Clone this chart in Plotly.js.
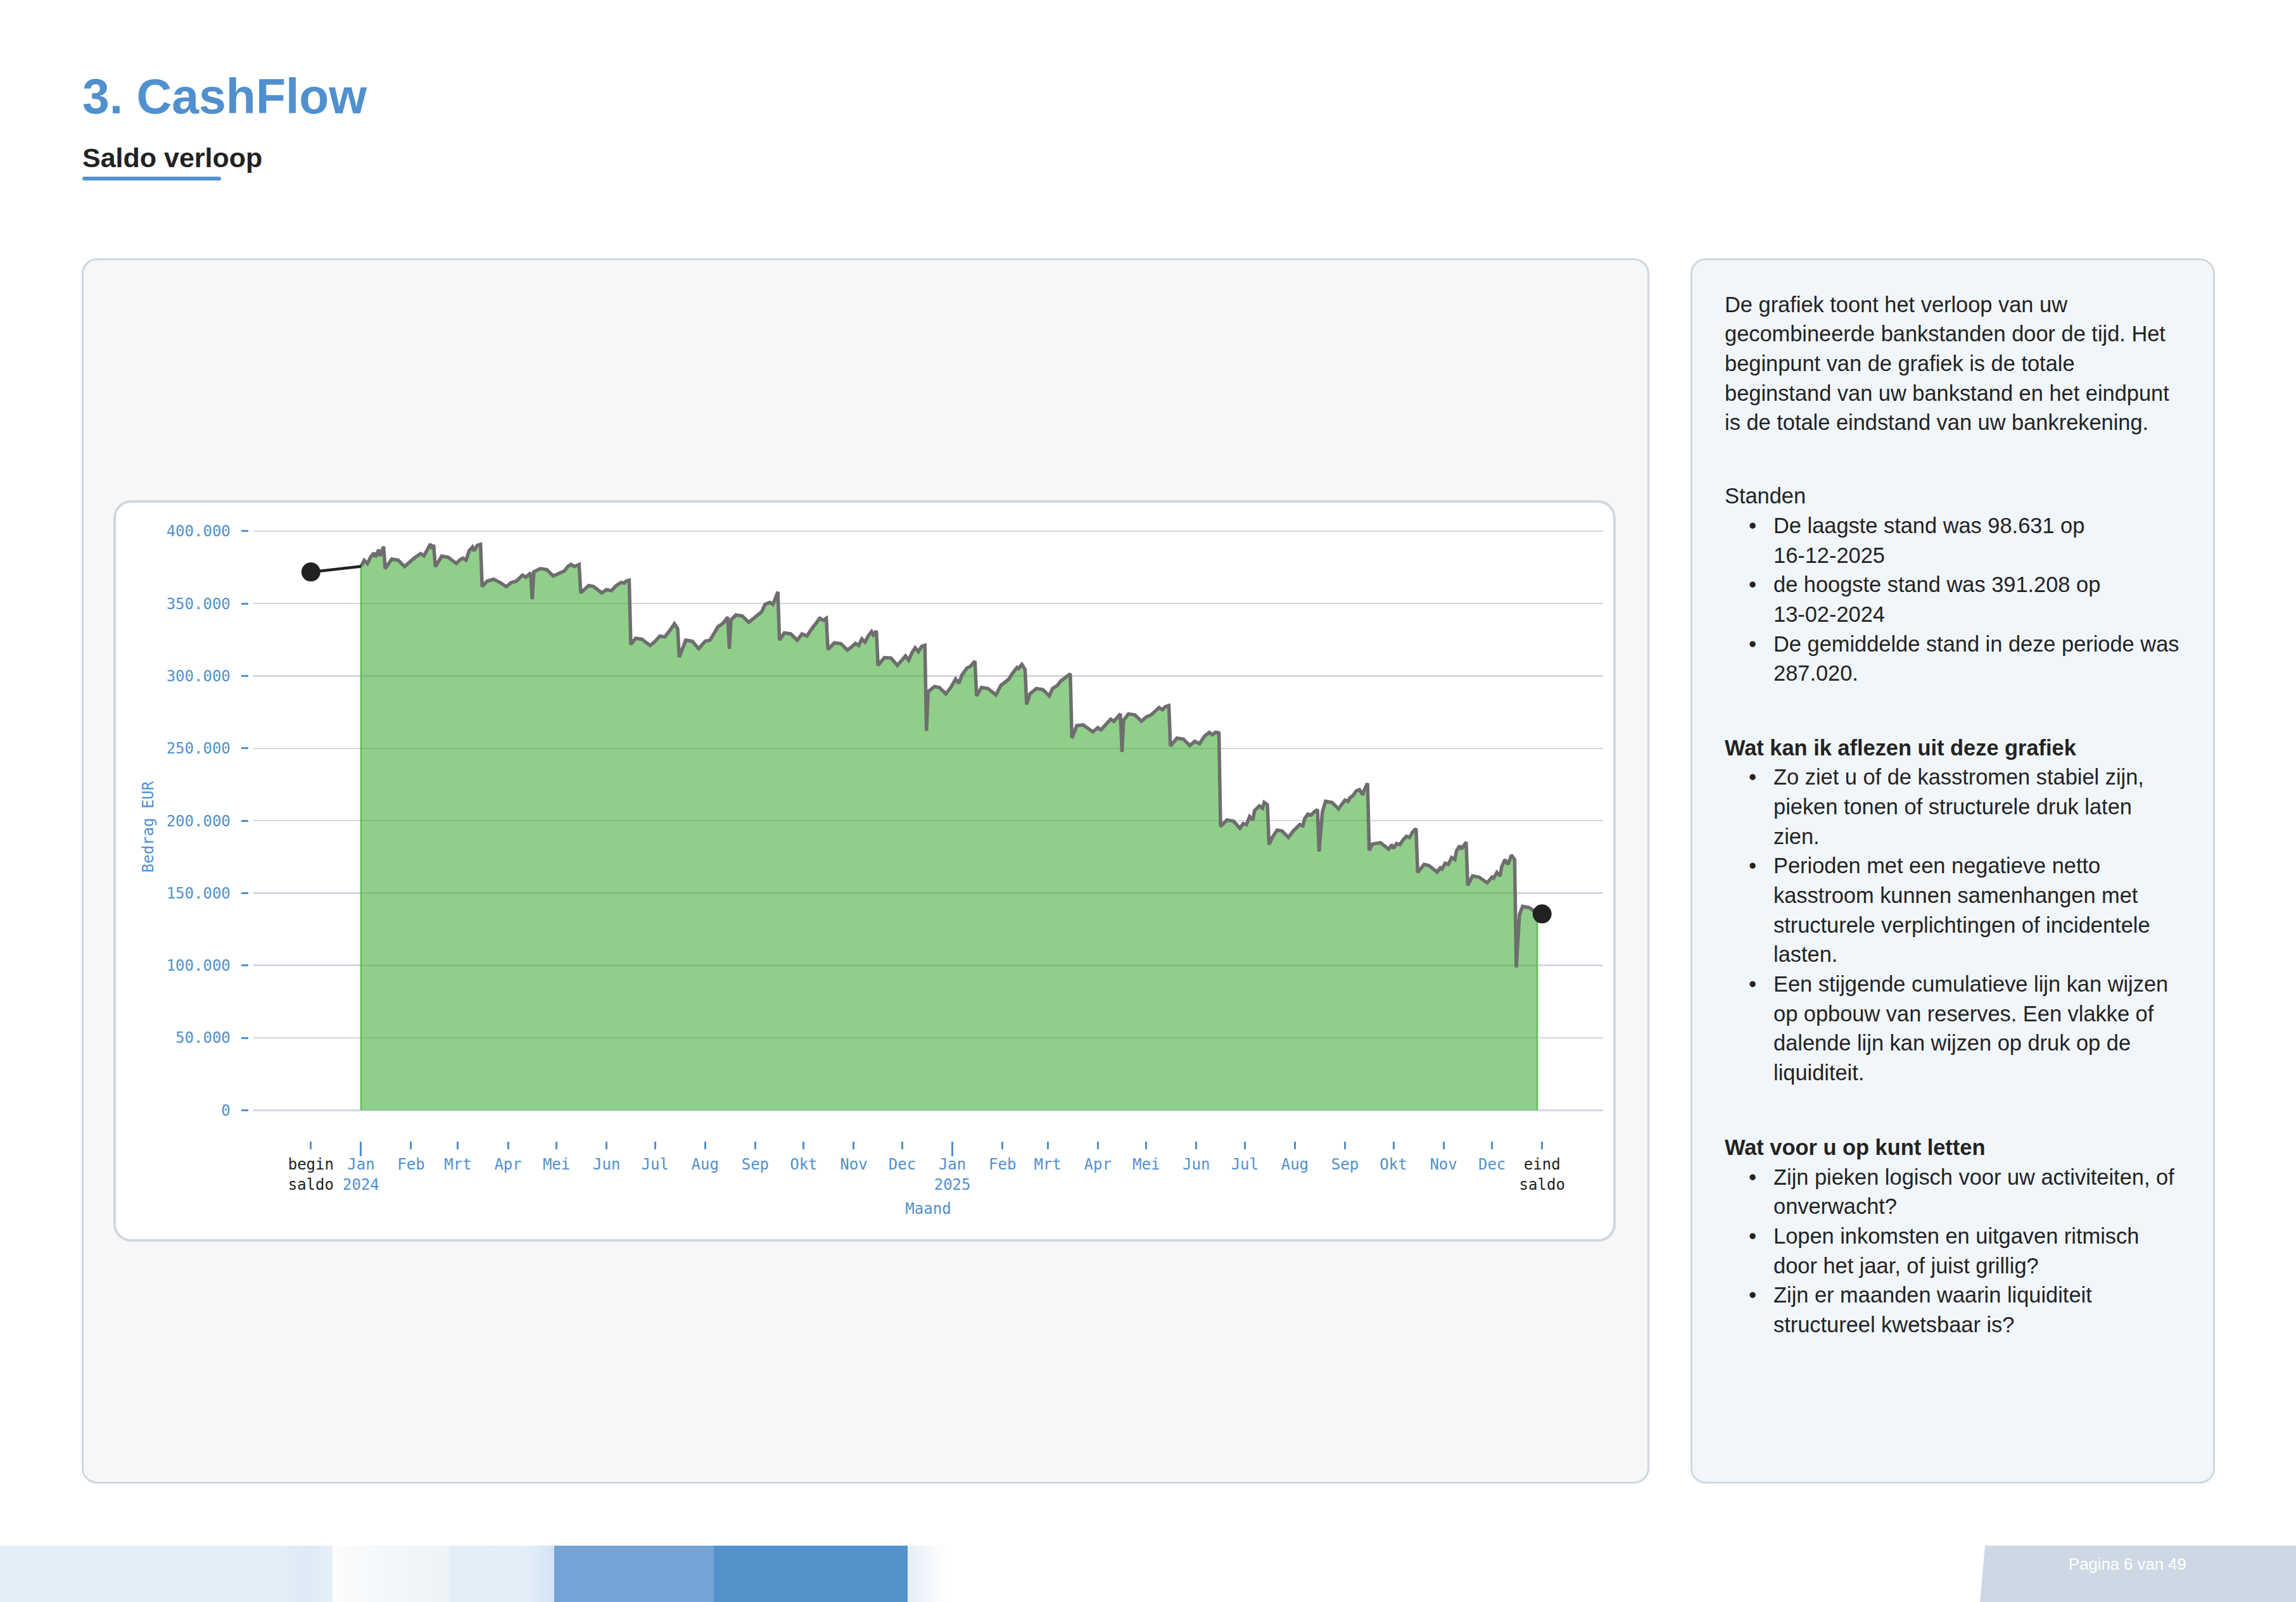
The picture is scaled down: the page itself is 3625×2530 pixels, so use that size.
<!DOCTYPE html>
<html><head><meta charset="utf-8">
<script src="https://cdn.plot.ly/plotly-3.0.1.min.js"></script>
<style>
html,body{margin:0;padding:0;background:#fff;}
body{width:3625px;height:2530px;position:relative;overflow:hidden;font-family:"Liberation Sans",Arial,sans-serif;color:#222;}
.a{position:absolute;}
.card{position:absolute;box-sizing:border-box;}
.txt{position:absolute;left:2723px;font-size:34.4px;line-height:46.7px;color:#232323;white-space:nowrap;}
.txt div{height:46.7px;}
.b{font-weight:bold;}
.li{position:relative;padding-left:77px;}
.li .dot{position:absolute;left:38px;top:0;}
</style></head><body>

<div class="a" style="left:130px;top:114px;font-size:77px;line-height:77px;font-weight:bold;color:#5090CE;white-space:nowrap;">3. CashFlow</div>
<div class="a" style="left:130px;top:228px;font-size:43px;line-height:43px;font-weight:bold;color:#222;white-space:nowrap;">Saldo verloop</div>
<div class="a" style="left:129.5px;top:278.5px;width:219.5px;height:6px;border-radius:3px;background:#5090CE;"></div>

<div class="card" style="left:129px;top:408px;width:2475px;height:1935px;border:3.5px solid #CED6E0;border-radius:24px;background:#F7F7F7;"></div>
<div class="card" style="left:179px;top:789.5px;width:2372px;height:1171px;border:4px solid #CFD7E1;border-radius:28px;background:#fff;"></div>
<div class="card" style="left:2669px;top:408px;width:828px;height:1935px;border:3.5px solid #CFD8E1;border-radius:24px;background:#F1F6FB;"></div>

<div id="chart" class="a" style="left:180px;top:791px;width:2370px;height:1170px;"></div>

<div class="txt" style="top:457.5px;">
<div>De grafiek toont het verloop van uw</div>
<div>gecombineerde bankstanden door de tijd. Het</div>
<div>beginpunt van de grafiek is de totale</div>
<div>beginstand van uw bankstand en het eindpunt</div>
<div>is de totale eindstand van uw bankrekening.</div>
</div>

<div class="txt" style="top:760.3px;">
<div>Standen</div>
<div class="li"><span class="dot">•</span>De laagste stand was 98.631 op</div>
<div class="li">16-12-2025</div>
<div class="li"><span class="dot">•</span>de hoogste stand was 391.208 op</div>
<div class="li">13-02-2024</div>
<div class="li"><span class="dot">•</span>De gemiddelde stand in deze periode was</div>
<div class="li">287.020.</div>
</div>

<div class="txt" style="top:1157.5px;">
<div class="b">Wat kan ik aflezen uit deze grafiek</div>
<div class="li"><span class="dot">•</span>Zo ziet u of de kasstromen stabiel zijn,</div>
<div class="li">pieken tonen of structurele druk laten</div>
<div class="li">zien.</div>
<div class="li"><span class="dot">•</span>Perioden met een negatieve netto</div>
<div class="li">kasstroom kunnen samenhangen met</div>
<div class="li">structurele verplichtingen of incidentele</div>
<div class="li">lasten.</div>
<div class="li"><span class="dot">•</span>Een stijgende cumulatieve lijn kan wijzen</div>
<div class="li">op opbouw van reserves. Een vlakke of</div>
<div class="li">dalende lijn kan wijzen op druk op de</div>
<div class="li">liquiditeit.</div>
</div>

<div class="txt" style="top:1789px;">
<div class="b">Wat voor u op kunt letten</div>
<div class="li"><span class="dot">•</span>Zijn pieken logisch voor uw activiteiten, of</div>
<div class="li">onverwacht?</div>
<div class="li"><span class="dot">•</span>Lopen inkomsten en uitgaven ritmisch</div>
<div class="li">door het jaar, of juist grillig?</div>
<div class="li"><span class="dot">•</span>Zijn er maanden waarin liquiditeit</div>
<div class="li">structureel kwetsbaar is?</div>
</div>

<!-- footer band -->
<div class="a" style="left:0;top:2441px;width:525px;height:89px;background:linear-gradient(90deg,#E4EEF8 0%,#E4EEF8 84%,#DFEAF6 92%,#E6EFF8 100%);"></div>
<div class="a" style="left:525px;top:2441px;width:184px;height:89px;background:linear-gradient(90deg,#FBFCFD 0%,#F4F7FA 50%,#EEF3F8 100%);"></div>
<div class="a" style="left:709px;top:2441px;width:166px;height:89px;background:linear-gradient(90deg,#E4EEF8 0%,#E2EDF8 75%,#D3E4F5 100%);"></div>
<div class="a" style="left:875px;top:2441px;width:252px;height:89px;background:#74A3D6;"></div>
<div class="a" style="left:1127px;top:2441px;width:306px;height:89px;background:#5391CB;"></div>
<div class="a" style="left:1433px;top:2441px;width:62px;height:89px;background:linear-gradient(90deg,#E6EEF7 0%,#F6F9FC 60%,#FFFFFF 100%);"></div>
<div class="a" style="left:3126px;top:2441px;width:499px;height:89px;background:#CDD8E4;clip-path:polygon(8px 0,100% 0,100% 100%,0 100%);"></div>
<div class="a" style="left:3266px;top:2458px;font-size:25.7px;line-height:25.7px;color:#fff;white-space:nowrap;">Pagina 6 van 49</div>

<script>
// ---- data ----
const beginDate = '2023-12-01';
const beginSaldo = 371800;
const endDate = '2026-01-01';
const eindSaldo = 135600;

const dates = [
'2024-01-01','2024-01-03','2024-01-05','2024-01-07','2024-01-09','2024-01-10','2024-01-12','2024-01-13','2024-01-15','2024-01-16','2024-01-20','2024-01-24','2024-01-28',
'2024-02-01','2024-02-03','2024-02-05','2024-02-07','2024-02-09','2024-02-11','2024-02-12','2024-02-13','2024-02-14','2024-02-15','2024-02-16','2024-02-20','2024-02-24','2024-02-29',
'2024-03-02','2024-03-04','2024-03-06','2024-03-08','2024-03-10','2024-03-11','2024-03-13','2024-03-15','2024-03-16','2024-03-19','2024-03-23','2024-03-27','2024-03-31',
'2024-04-03','2024-04-06','2024-04-08','2024-04-10','2024-04-12','2024-04-15','2024-04-16','2024-04-17','2024-04-21','2024-04-25','2024-04-29',
'2024-05-03','2024-05-06','2024-05-08','2024-05-10','2024-05-12','2024-05-15','2024-05-16','2024-05-21','2024-05-24','2024-05-29',
'2024-06-01','2024-06-04','2024-06-07','2024-06-10','2024-06-12','2024-06-13','2024-06-15','2024-06-16','2024-06-19','2024-06-23','2024-06-28',
'2024-07-01','2024-07-04','2024-07-07','2024-07-10','2024-07-13','2024-07-15','2024-07-16','2024-07-20','2024-07-24','2024-07-28',
'2024-08-01','2024-08-04','2024-08-07','2024-08-09','2024-08-12','2024-08-15','2024-08-16','2024-08-17','2024-08-20','2024-08-24','2024-08-28','2024-08-31',
'2024-09-02','2024-09-05','2024-09-07','2024-09-10','2024-09-12','2024-09-15','2024-09-16','2024-09-19','2024-09-23','2024-09-27','2024-09-30',
'2024-10-03','2024-10-06','2024-10-09','2024-10-11','2024-10-13','2024-10-15','2024-10-16','2024-10-20','2024-10-24','2024-10-28','2024-10-31',
'2024-11-02','2024-11-04','2024-11-06','2024-11-08','2024-11-10','2024-11-12','2024-11-13','2024-11-15','2024-11-16','2024-11-20','2024-11-24','2024-11-28',
'2024-12-01','2024-12-03','2024-12-05','2024-12-07','2024-12-09','2024-12-11','2024-12-13','2024-12-15','2024-12-16','2024-12-17','2024-12-21','2024-12-24','2024-12-28','2024-12-31',
'2025-01-03','2025-01-05','2025-01-07','2025-01-10','2025-01-12','2025-01-15','2025-01-16','2025-01-19','2025-01-23','2025-01-28','2025-01-31',
'2025-02-03','2025-02-05','2025-02-07','2025-02-10','2025-02-11','2025-02-13','2025-02-15','2025-02-16','2025-02-18','2025-02-22','2025-02-26',
'2025-03-02','2025-03-04','2025-03-07','2025-03-09','2025-03-12','2025-03-15','2025-03-16','2025-03-19','2025-03-23','2025-03-29',
'2025-04-01','2025-04-03','2025-04-06','2025-04-09','2025-04-11','2025-04-13','2025-04-15','2025-04-16','2025-04-17','2025-04-20','2025-04-24','2025-04-28',
'2025-05-01','2025-05-04','2025-05-07','2025-05-09','2025-05-11','2025-05-13','2025-05-15','2025-05-16','2025-05-20','2025-05-24','2025-05-28','2025-05-31',
'2025-06-03','2025-06-06','2025-06-09','2025-06-11','2025-06-13','2025-06-15','2025-06-16','2025-06-20','2025-06-24','2025-06-28','2025-06-30',
'2025-07-02','2025-07-04','2025-07-06','2025-07-07','2025-07-10','2025-07-12','2025-07-13','2025-07-15','2025-07-16','2025-07-18','2025-07-21','2025-07-24','2025-07-28','2025-07-31',
'2025-08-02','2025-08-04','2025-08-06','2025-08-07','2025-08-09','2025-08-11','2025-08-13','2025-08-15','2025-08-16','2025-08-18','2025-08-20','2025-08-24','2025-08-28','2025-08-30',
'2025-09-01','2025-09-03','2025-09-04','2025-09-06','2025-09-08','2025-09-10','2025-09-12','2025-09-13','2025-09-15','2025-09-16','2025-09-18','2025-09-23','2025-09-28','2025-09-30',
'2025-10-01','2025-10-03','2025-10-05','2025-10-07','2025-10-09','2025-10-11','2025-10-13','2025-10-15','2025-10-16','2025-10-20','2025-10-23','2025-10-28','2025-10-30','2025-10-31',
'2025-11-02','2025-11-04','2025-11-06','2025-11-08','2025-11-09','2025-11-11','2025-11-12','2025-11-15','2025-11-16','2025-11-19','2025-11-23','2025-11-28',
'2025-12-01','2025-12-02','2025-12-04','2025-12-06','2025-12-07','2025-12-09','2025-12-11','2025-12-13','2025-12-15','2025-12-16','2025-12-18','2025-12-20','2025-12-24','2025-12-27','2025-12-29'
];

const saldo = [
375700,379900,377700,382100,385000,382100,387200,382800,389400,374100,380700,380000,375600,
380000,381500,383000,384500,383000,387500,389500,391208,387800,390600,375600,382800,382000,377700,
380000,381400,380000,386500,389000,386500,390200,390900,361700,365400,366800,364600,361700,
364500,365400,367600,369700,368200,371200,353000,371900,374100,373500,369000,
371200,372600,375600,377000,375600,377000,357400,362500,361800,357400,
359600,358900,362500,364600,364200,365400,366100,321700,326000,325300,321000,
323900,327600,326900,331200,336000,332600,313000,324700,324000,318800,
324000,324700,329700,334000,336300,340600,318800,338500,342100,341400,337000,339900,
341400,344300,349400,350800,349400,358100,324700,329700,329000,324700,329000,
327600,332600,337000,339900,338500,339900,318200,322900,322300,317900,320400,
322500,321000,325500,323300,327700,330600,328400,331000,307300,312700,312400,307300,
311700,313800,310900,316000,319400,316800,320400,321100,262100,289100,292700,292000,287600,292000,
297800,294900,300700,305400,306500,310200,286200,292000,291300,286900,293400,
296400,297800,301500,305800,305100,308000,304400,280300,287600,291300,290600,
286200,291300,293400,296400,299300,301500,257000,265700,266200,261400,
264300,262800,266500,270100,268700,271600,273800,247500,269400,273800,273100,268700,
271600,273100,276000,278100,276600,278900,279500,251500,257000,256300,251900,254800,
253200,258300,261000,259400,261200,260600,196000,200500,199700,194800,198000,
197300,202900,200500,206900,210200,208600,212600,211000,183500,188400,193500,192900,188400,192900,
194800,197300,196500,201300,204500,203800,206100,207700,178700,206100,213400,212600,208200,211500,
214200,213400,215800,217400,220600,221400,217800,221400,225800,179500,183900,184800,180300,183500,
180800,184200,183500,186800,189200,188400,192400,194500,164200,169800,169000,164500,167400,166600,
170600,169800,174500,173200,179000,182700,180300,185200,155300,161800,161000,157100,
161000,160300,164200,161800,168200,173100,169800,176300,173100,98631,135200,140800,140000,137600,136000
];

const monthNames = ['Jan','Feb','Mrt','Apr','Mei','Jun','Jul','Aug','Sep','Okt','Nov','Dec'];
const years = [2024, 2025];
const beginLabel = ['begin','saldo'];
const eindLabel = ['eind','saldo'];

// ---- styling ----
const BLUE = '#5090CE';
const DARK = '#222222';
const MONO = '"DejaVu Sans Mono", "Liberation Mono", monospace';
const GRID = '#D3D9E2';

const tickVals = [beginDate];
const tickText = [beginLabel.map(s => '<span style="color:' + DARK + '">' + s + '</span>').join('<br>')];
const janVals = [];
years.forEach(y => monthNames.forEach((m, i) => {
  const d = y + '-' + String(i + 1).padStart(2, '0') + '-01';
  tickVals.push(d);
  tickText.push(i === 0 ? m + '<br>' + y : m);
  if (i === 0) janVals.push(d);
}));
tickVals.push(endDate);
tickText.push(eindLabel.map(s => '<span style="color:' + DARK + '">' + s + '</span>').join('<br>'));

const DAY = 86400000;
const t0 = Date.UTC(2024, 0, 1);
const d2s = ms => new Date(ms).toISOString().replace('T', ' ').slice(0, 19);
const xRange = [d2s(t0 - 66.64 * DAY), d2s(t0 + 768.75 * DAY)];
const yRange = [-21304, 412641];

const last = dates.length - 1;
const traces = [
  { // filled area
    x: [dates[0]].concat(dates, [dates[last]]),
    y: [0].concat(saldo, [0]),
    type: 'scatter', mode: 'lines', fill: 'toself',
    fillcolor: 'rgba(60,170,50,0.57)',
    line: { color: 'rgba(95,185,85,0.95)', width: 2.5 },
    hoverinfo: 'skip', showlegend: false
  },
  { // balance line
    x: dates, y: saldo, type: 'scatter', mode: 'lines',
    line: { color: '#6E6E6E', width: 5.5 },
    hoverinfo: 'skip', showlegend: false
  },
  { // begin connector
    x: [beginDate, dates[0]], y: [beginSaldo, saldo[0]],
    type: 'scatter', mode: 'lines',
    line: { color: DARK, width: 4.5 },
    hoverinfo: 'skip', showlegend: false
  },
  { // end connector
    x: [dates[last], endDate], y: [saldo[last], eindSaldo],
    type: 'scatter', mode: 'lines',
    line: { color: '#6E6E6E', width: 5.5 },
    hoverinfo: 'skip', showlegend: false
  },
  { // begin / eind saldo dots
    x: [beginDate, endDate], y: [beginSaldo, eindSaldo],
    type: 'scatter', mode: 'markers',
    marker: { color: DARK, size: 30, opacity: 1, line: { width: 0 } },
    hoverinfo: 'skip', showlegend: false
  },
  { x: [], y: [], xaxis: 'x2', yaxis: 'y', type: 'scatter', showlegend: false, hoverinfo: 'skip' }
];

const layout = {
  width: 2370, height: 1170,
  margin: { l: 212, r: 19, t: 19, b: 159, pad: 0 },
  paper_bgcolor: 'rgba(0,0,0,0)', plot_bgcolor: 'rgba(0,0,0,0)',
  separators: ',.',
  showlegend: false,
  hovermode: false,
  font: { family: MONO, size: 24, color: BLUE },
  xaxis: {
    type: 'date', domain: [0.0037, 1], range: xRange,
    tickmode: 'array', tickvals: tickVals, ticktext: tickText,
    ticks: 'outside', ticklen: 11.5, tickwidth: 3, tickcolor: BLUE,
    ticklabelstandoff: 4,
    tickfont: { family: MONO, size: 24, color: BLUE },
    showgrid: false, zeroline: false, showline: false,
    title: { text: 'Maand', font: { family: MONO, size: 24, color: BLUE }, standoff: 16 }
  },
  xaxis2: {
    type: 'date', domain: [0.0037, 1], range: xRange, overlaying: 'x', anchor: 'y',
    tickmode: 'array', tickvals: janVals, ticktext: janVals.map(() => ''),
    ticks: 'outside', ticklen: 22.5, tickwidth: 3, tickcolor: BLUE,
    showticklabels: false, showgrid: false, zeroline: false, showline: false
  },
  yaxis: {
    anchor: 'free', position: 0, range: yRange,
    tickmode: 'linear', tick0: 0, dtick: 50000, tickformat: ',d',
    ticks: 'outside', ticklen: 11.4, tickwidth: 3, tickcolor: BLUE,
    ticklabelstandoff: 12,
    tickfont: { family: MONO, size: 24, color: BLUE },
    showgrid: true, gridcolor: GRID, gridwidth: 2.5,
    zeroline: false, showline: false,
    title: { text: 'Bedrag EUR', font: { family: MONO, size: 24, color: BLUE }, standoff: 12 }
  }
};

Plotly.newPlot('chart', traces, layout, { staticPlot: true, displayModeBar: false });
</script>
</body></html>
